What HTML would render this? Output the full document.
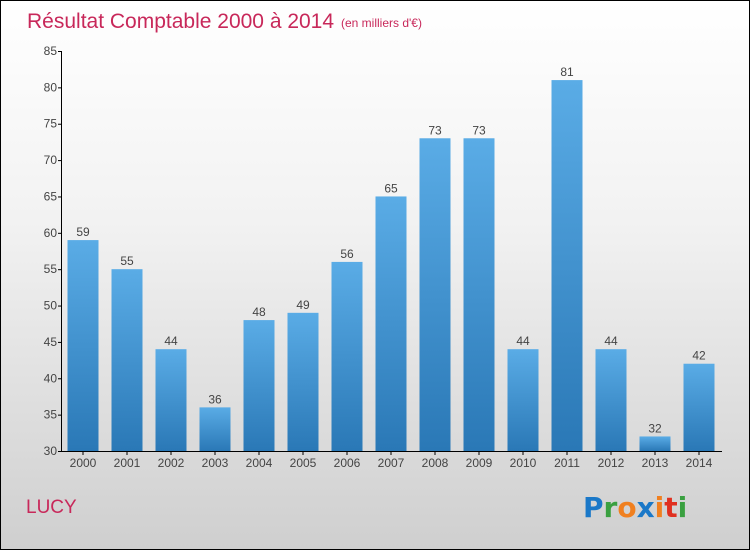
<!DOCTYPE html>
<html><head><meta charset="utf-8"><style>
body{margin:0}
#c{position:relative;width:748px;height:548px;border:1px solid #000;background:linear-gradient(#ffffff,#f2f2f2 40%,#cfcfcf);font-family:"Liberation Sans",sans-serif;overflow:hidden}
</style></head><body>
<div id="c">
<svg id="s" width="748" height="548">
<defs><linearGradient id="g" x1="0" y1="0" x2="0" y2="1"><stop offset="0" stop-color="#5aace6"/><stop offset="1" stop-color="#2a78b6"/></linearGradient></defs>
<text x="26" y="27" font-size="21" fill="#c8285a">Résultat Comptable 2000 à 2014</text>
<text x="340" y="26" font-size="12" fill="#c8285a">(en milliers d'€)</text>
<text x="25" y="512" font-size="19" fill="#c8285a">LUCY</text>
<g font-size="28" font-weight="bold" font-family="DejaVu Sans, sans-serif">
<text x="582" y="516"><tspan fill="#1a78c8">P</tspan><tspan fill="#3aa040">r</tspan><tspan fill="#f08020">o</tspan><tspan fill="#1a78c8">x</tspan><tspan fill="#f08020">i</tspan><tspan fill="#e03020">t</tspan><tspan fill="#3aa040">i</tspan></text>
</g>
</svg>
</div>
<script>
const categories=["2000","2001","2002","2003","2004","2005","2006","2007","2008","2009","2010","2011","2012","2013","2014"];
const values=[59,55,44,36,48,49,56,65,73,73,44,81,44,32,42];
const ticks=[30,35,40,45,50,55,60,65,70,75,80,85];
const s=document.getElementById('s');
const NS='http://www.w3.org/2000/svg';
const x0=60,bw=44,yMin=30,yMax=85,yTop=50,yBot=450;
const y=v=>yBot-(v-yMin)/(yMax-yMin)*(yBot-yTop);
const xc=i=>x0+bw*(i+0.5);
function mk(t,a){const e=document.createElementNS(NS,t);for(const k in a)e.setAttribute(k,a[k]);s.appendChild(e);return e;}
let e;
e=mk('line',{x1:60.5,y1:yTop,x2:60.5,y2:yBot+1,stroke:'#000'});


e=mk('line',{x1:60,y1:yBot+0.5,x2:721,y2:yBot+0.5,stroke:'#000'});


ticks.forEach(t=>{
 e=mk('line',{x1:57,x2:61,y1:y(t)+0.5,y2:y(t)+0.5,stroke:'#000'});
 
 
 e=mk('text',{x:56,y:y(t)+4,'font-size':12,fill:'#444','text-anchor':'end'});
 e.textContent=t;
 
 
});
categories.forEach((c,i)=>{
 const v=values[i];
 e=mk('rect',{x:xc(i)-15.5,y:y(v),width:31,height:yBot-y(v),fill:'url(#g)'});
 
 
 e=mk('text',{x:xc(i),y:y(v)-4,'font-size':12,fill:'#444','text-anchor':'middle'});
 e.textContent=v;
 
 
 e=mk('line',{x1:xc(i),x2:xc(i),y1:yBot,y2:yBot+4,stroke:'#000'});
 
 
 e=mk('text',{x:xc(i),y:466,'font-size':12,fill:'#444','text-anchor':'middle'});
 e.textContent=c;
 
 
});
</script>
</body></html>
